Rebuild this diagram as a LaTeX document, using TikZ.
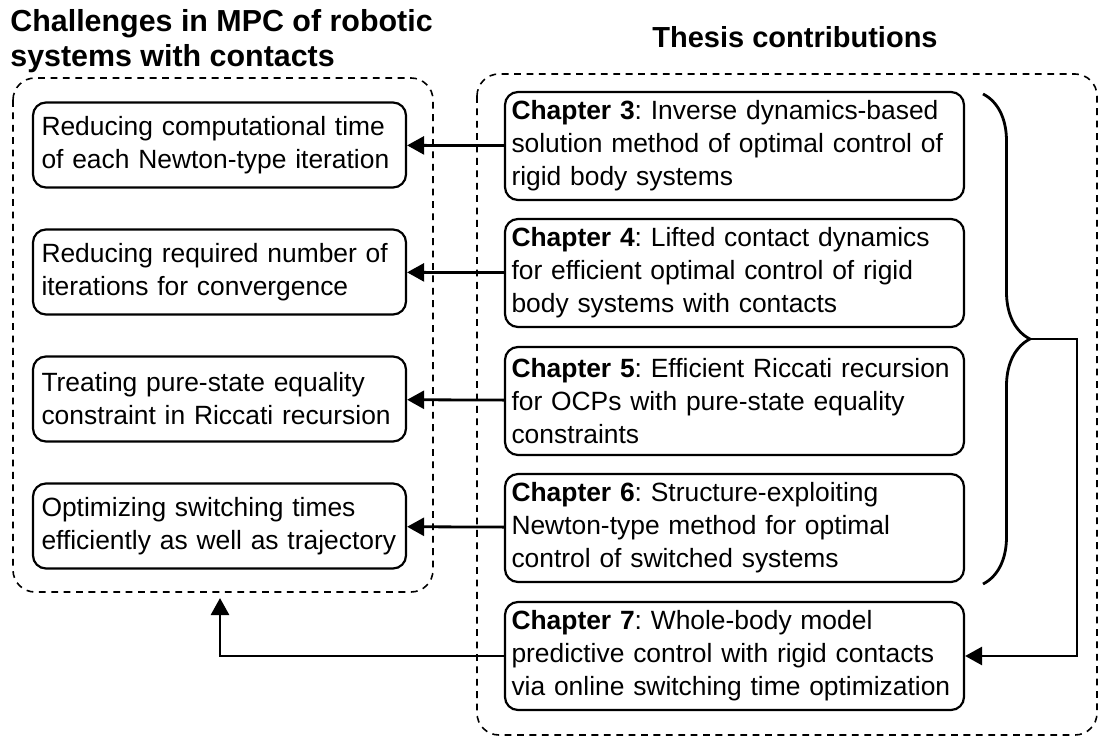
\documentclass[tikz,border=0pt]{standalone}
\usepackage{fontspec}
\setmainfont{Liberation Sans}
\usetikzlibrary{arrows.meta,decorations.pathreplacing}

\begin{document}
\frenchspacing
\begin{tikzpicture}[x=0.5pt, y=-0.5pt,
  every node/.style={font=\fontsize{13.2}{16.5}\selectfont},
  challenge/.style={draw, line width=1.1pt, rounded corners=6.5pt, align=left, text width=178pt, inner xsep=4.25pt, minimum height=42.5pt},
  chapter/.style={draw, line width=1.1pt, rounded corners=6.5pt, align=left, text width=223pt, inner xsep=3.25pt, minimum height=54pt},
  group/.style={draw, line width=0.8pt, dash pattern=on 3.4pt off 2.8pt, rounded corners=11pt},
  heading/.style={font=\fontsize{14.5}{17.5}\selectfont\bfseries, align=left},
  link/.style={line width=1.4pt, -{Triangle[length=8.5pt, width=9pt]}}]
\useasboundingbox (0,0) rectangle (1105,738);

% headings
\node[heading, font=\fontsize{15.2}{17.5}\selectfont\bfseries, anchor=north west, inner sep=0pt] (lt) at (10,9) {Challenges in MPC of robotic\\systems with contacts};
\node[heading] (rt) at (795,37) {Thesis contributions};

% dashed groups
\draw[group] (13,78) rectangle (433,592);
\draw[group] (477,74) rectangle (1097,735);

% challenges
\node[challenge] (a) at (219.5,145) {Reducing computational time\\of each Newton-type iteration};
\node[challenge] (b) at (219.5,272) {Reducing required number of\\iterations for convergence};
\node[challenge] (c) at (219.5,399) {Treating pure-state equality\\constraint in Riccati recursion};
\node[challenge] (d) at (219.5,526) {Optimizing switching times\\efficiently as well as trajectory};

% contributions
\node[chapter] (ch3) at (734.5,146) {\textbf{Chapter 3}: Inverse dynamics-based\\solution method of optimal control of\\rigid body systems};
\node[chapter] (ch4) at (734.5,273) {\textbf{Chapter 4}: Lifted contact dynamics\\for efficient optimal control of rigid\\body systems with contacts};
\node[chapter] (ch5) at (734.5,401) {\textbf{Chapter 5}: Efficient Riccati recursion\\for OCPs with pure-state equality\\constraints};
\node[chapter] (ch6) at (734.5,528) {\textbf{Chapter 6}: Structure-exploiting\\Newton-type method for optimal\\control of switched systems};
\node[chapter] (ch7) at (734.5,656) {\textbf{Chapter 7}: Whole-body model\\predictive control with rigid contacts\\via online switching time optimization};

\draw[link] (ch3) -- (a);
\draw[link] (ch4) -- (b);
\draw[link] (ch5) -- (c);
\draw[link] (ch6) -- (d);

% brace over chapters 3-6
\draw[line width=1.4pt, decorate, decoration={brace, amplitude=23.5pt}] (983,94) -- (983,584);
\coordinate (bt) at (1030,339);
\draw[link] (bt) -- (1077,339) |- (ch7.east);

\coordinate (lg) at (220,598);
\draw[link] (ch7.west) -| (lg);
\end{tikzpicture}
\end{document}
